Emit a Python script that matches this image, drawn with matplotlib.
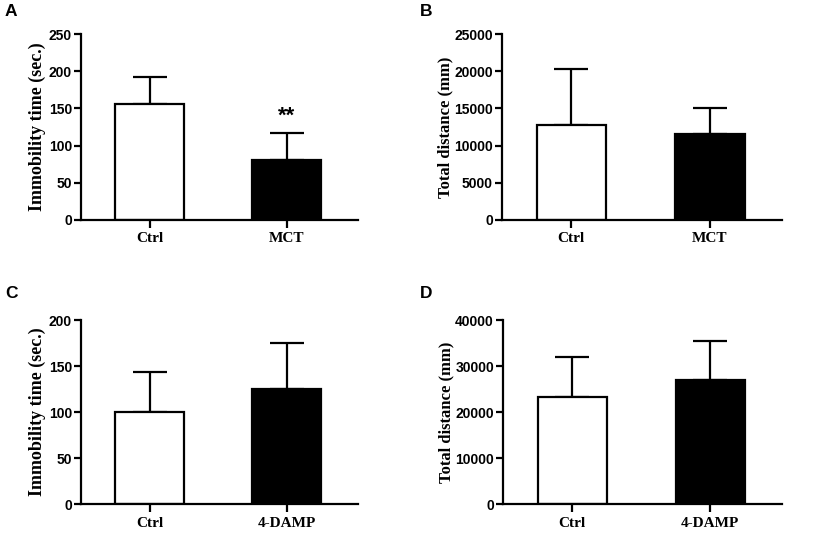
import matplotlib
matplotlib.use("Agg")
import matplotlib.pyplot as plt

groups_top = ["Ctrl", "MCT"]
groups_bottom = ["Ctrl", "4-DAMP"]

immob_A = [155.6, 80.9]
immob_A_err = [36.8, 36.4]
dist_B = [12730, 11515]
dist_B_err = [7630, 3505]
immob_C = [100.2, 125.1]
immob_C_err = [43.7, 49.6]
dist_D = [23220, 27040]
dist_D_err = [8810, 8400]

ylabel_immob = "Immobility time (sec.)"
ylabel_dist = "Total distance (mm)"

yticks_A = [0, 50, 100, 150, 200, 250]
yticks_B = [0, 5000, 10000, 15000, 20000, 25000]
yticks_C = [0, 50, 100, 150, 200]
yticks_D = [0, 10000, 20000, 30000, 40000]

W, H = 829, 549
fig = plt.figure(figsize=(W / 100, H / 100), dpi=100)

LW = 1.6
SANS = "Liberation Sans"
SERIF = "Liberation Serif"


def panel(rect_px, cats, vals, errs, yticks, ylabel, ylsize, lpad, letter, letter_xy, stars=None):
    l, r, top, bot = rect_px
    ax = fig.add_axes([l / W, 1 - bot / H, (r - l) / W, (bot - top) / H])
    x = list(range(len(cats)))
    ax.errorbar(x, vals, yerr=[[0] * len(errs), errs], fmt="none", ecolor="black",
                elinewidth=LW, capsize=12.5, capthick=LW, zorder=1)
    ax.bar(x, vals, width=0.5, color=["white", "black"], edgecolor="black",
           linewidth=LW, zorder=2)
    ax.set_xlim(-0.5, 1.52)
    ax.set_ylim(yticks[0], yticks[-1])
    ax.set_yticks(yticks)
    ax.set_yticklabels([str(t) for t in yticks], fontfamily=SANS, fontweight="bold",
                       fontsize=10)
    ax.set_xticks(x)
    ax.set_xticklabels(cats, fontfamily=SERIF, fontweight="bold", fontsize=11)
    for s in ["top", "right"]:
        ax.spines[s].set_visible(False)
    for s in ["left", "bottom"]:
        ax.spines[s].set_linewidth(LW)
    ax.tick_params(axis="y", length=5, width=LW, pad=1.5)
    ax.tick_params(axis="x", length=6, width=LW, pad=3)
    ax.set_ylabel(ylabel, fontfamily=SERIF, fontweight="bold", fontsize=ylsize, labelpad=lpad)
    ax.patch.set_alpha(0)
    if stars is not None:
        idx, yv = stars
        ax.text(idx, yv, "**", ha="center", va="center", fontfamily=SANS,
                fontweight="bold", fontsize=16)
    fig.text(letter_xy[0] / W, 1 - letter_xy[1] / H, letter, fontfamily=SANS,
             fontweight="bold", fontsize=12.5, ha="left", va="center")
    return ax


panel((81, 358, 34.3, 219.7), groups_top, immob_A, immob_A_err, yticks_A,
      ylabel_immob, 13, 2, "A", (5, 12), stars=(1, 139))
panel((502, 782, 34.3, 219.7), groups_top, dist_B, dist_B_err, yticks_B,
      ylabel_dist, 12, 0.5, "B", (420, 12))
panel((81, 358, 320, 504.3), groups_bottom, immob_C, immob_C_err, yticks_C,
      ylabel_immob, 13, 2, "C", (5, 293))
panel((503, 782, 320, 504.3), groups_bottom, dist_D, dist_D_err, yticks_D,
      ylabel_dist, 12, 0.5, "D", (420, 293))

fig.savefig("out.png", dpi=100, facecolor="white")
